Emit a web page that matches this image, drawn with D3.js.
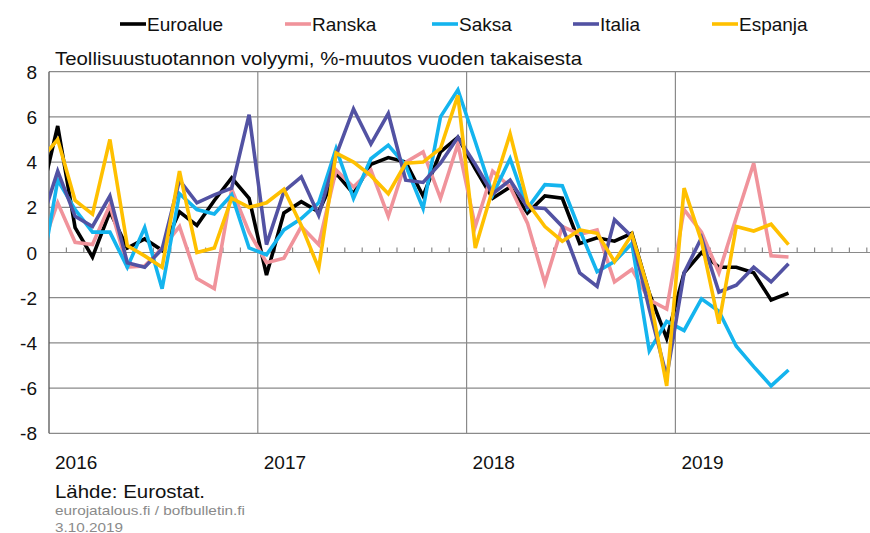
<!DOCTYPE html>
<html>
<head>
<meta charset="utf-8">
<script src="https://cdn.jsdelivr.net/npm/d3@7"></script>
<style>
  body { margin: 0; background: #fff; }
  svg { display: block; font-family: "Liberation Sans", Arial, sans-serif; }
</style>
</head>
<body>
<svg id="chart" width="870" height="533"></svg>
<script>
// monthly values, first one is Dec 2015 (clipped at left edge), last one Jul 2019
var startMonth = new Date(2015, 11, 1);

var euroalue = [2.3, 5.6, 1.1, -0.2, 1.8, 0.2, 0.6, 0.1, 1.8, 1.2, 2.3, 3.3, 2.4,
  -1.0, 1.75, 2.25, 1.8, 3.5, 2.6, 3.9, 4.2, 4.0, 2.5, 4.45, 5.1,
  3.7, 2.4, 2.9, 1.75, 2.5, 2.4, 0.4, 0.65, 0.5, 0.85, -1.8, -3.8,
  -0.9, 0.0, -0.65, -0.65, -0.9, -2.1, -1.8];
var ranska = [0.0, 2.2, 0.45, 0.35, 2.1, -0.65, -0.6, 0.2, 1.15, -1.15, -1.6, 2.8, 0.9,
  -0.45, -0.25, 1.15, 0.35, 3.65, 2.9, 3.65, 1.6, 4.0, 4.45, 2.4, 4.8,
  1.15, 3.6, 2.9, 1.3, -1.35, 1.15, 0.8, 1.0, -1.3, -0.75, -2.1, -2.5,
  1.9, 0.9, -0.9, 1.55, 3.95, -0.15, -0.2];
var saksa = [-1.2, 3.2, 1.9, 0.9, 0.9, -0.65, 1.1, -1.6, 2.6, 1.9, 1.7, 2.55, 0.2,
  -0.1, 1.0, 1.5, 2.2, 4.6, 2.4, 4.15, 4.75, 3.85, 1.95, 6.0, 7.2,
  4.9, 2.55, 4.15, 1.95, 3.0, 2.95, 1.0, -0.85, -0.4, 0.4, -4.35, -3.05,
  -3.45, -2.05, -2.6, -4.15, -5.05, -5.9, -5.2];
var italia = [1.2, 3.6, 1.6, 1.15, 2.5, -0.45, -0.65, 0.15, 3.2, 2.2, 2.55, 2.85, 6.1,
  0.35, 2.7, 3.35, 1.65, 4.3, 6.35, 4.8, 6.15, 3.2, 3.1, 3.95, 5.1,
  3.9, 2.6, 3.2, 2.0, 1.95, 1.15, -0.9, -1.5, 1.45, 0.7, -2.5, -5.5,
  -0.9, 0.65, -1.75, -1.45, -0.65, -1.3, -0.5];
var espanja = [4.1, 5.0, 2.3, 1.7, 5.0, 0.3, -0.15, -0.65, 3.6, 0.0, 0.2, 2.4, 2.0,
  2.2, 2.8, 1.2, -0.7, 4.4, 4.0, 3.4, 2.6, 3.95, 4.0, 4.6, 6.95,
  0.2, 2.8, 5.25, 2.2, 1.15, 0.5, 1.0, 0.85, -0.4, 0.8, -1.8, -5.9,
  2.85, 0.5, -3.15, 1.15, 0.95, 1.25, 0.35];

var seriesNames = ["Euroalue", "Ranska", "Saksa", "Italia", "Espanja"];
var seriesColors = ["#000000", "#F0939B", "#14B4EE", "#5252A3", "#FFC000"];
var yearLabels = ["2016", "2017", "2018", "2019"];
var yTicks = [8, 6, 4, 2, 0, -2, -4, -6, -8];

var allSeries = [euroalue, ranska, saksa, italia, espanja];

var svg = d3.select("#chart");

var plotLeft = 49, plotRight = 870, plotTop = 71.7, plotBottom = 433.3;
var monthW = 17.4;

// month index from Jan 2016 (0) ; points sit in the middle of the month
var x = d3.scaleLinear().domain([0, 48]).range([plotLeft, plotLeft + monthW * 48]);
var y = d3.scaleLinear().domain([-8, 8]).range([plotBottom, plotTop]);

function monthIndex(d) {
  return (d.getFullYear() - 2016) * 12 + d.getMonth();
}

var months = d3.range(euroalue.length).map(function(i) {
  return d3.timeMonth.offset(startMonth, i);
});

svg.append("clipPath").attr("id", "plotclip")
  .append("rect")
  .attr("x", plotLeft).attr("y", plotTop - 10)
  .attr("width", plotRight - plotLeft).attr("height", plotBottom - plotTop + 20);

// horizontal grid lines
svg.append("g")
  .selectAll("line")
  .data(yTicks)
  .enter()
  .append("line")
  .attr("x1", plotLeft).attr("x2", plotRight)
  .attr("y1", function(d) { return y(d); })
  .attr("y2", function(d) { return y(d); })
  .style("stroke", "#8a8a8a")
  .style("stroke-width", 1.2);

// year lines
svg.append("g")
  .selectAll("line")
  .data([1, 2, 3])
  .enter()
  .append("line")
  .attr("x1", function(d) { return x(d * 12); })
  .attr("x2", function(d) { return x(d * 12); })
  .attr("y1", plotTop).attr("y2", plotBottom)
  .style("stroke", "#8a8a8a")
  .style("stroke-width", 1.2);

// month ticks on the zero line
svg.append("g")
  .selectAll("line")
  .data(d3.range(1, 48))
  .enter()
  .append("line")
  .attr("x1", function(d) { return x(d); })
  .attr("x2", function(d) { return x(d); })
  .attr("y1", y(0) - 5).attr("y2", y(0))
  .style("stroke", "#8a8a8a")
  .style("stroke-width", 1.2);

// left axis
svg.append("line")
  .attr("x1", plotLeft).attr("x2", plotLeft)
  .attr("y1", plotTop).attr("y2", plotBottom)
  .style("stroke", "#555")
  .style("stroke-width", 1.3);

// y labels
svg.append("g")
  .selectAll("text")
  .data(yTicks)
  .enter()
  .append("text")
  .attr("x", 37)
  .attr("y", function(d) { return y(d) + 7; })
  .attr("text-anchor", "end")
  .style("font-size", "19px")
  .style("fill", "#111")
  .text(function(d) { return d; });

// year labels
svg.append("g")
  .selectAll("text")
  .data(yearLabels)
  .enter()
  .append("text")
  .attr("x", function(d, i) { return x(i * 12) + 6; })
  .attr("y", 469)
  .style("font-size", "19px")
  .style("fill", "#111")
  .text(function(d) { return d; });

// lines
var line = d3.line()
  .x(function(d) { return x(monthIndex(d.date) + 0.5); })
  .y(function(d) { return y(d.value); });

var lineGroup = svg.append("g").attr("clip-path", "url(#plotclip)");
allSeries.forEach(function(values, k) {
  var pts = values.map(function(v, i) { return {date: months[i], value: v}; });
  lineGroup.append("path")
    .datum(pts)
    .attr("d", line)
    .style("fill", "none")
    .style("stroke", seriesColors[k])
    .style("stroke-width", 3.6)
    .style("stroke-linejoin", "miter");
});

// legend
var legendX = [120, 285, 432, 573, 712];
var legend = svg.append("g")
  .selectAll("g")
  .data(seriesNames)
  .enter()
  .append("g")
  .attr("transform", function(d, i) { return "translate(" + legendX[i] + ",24)"; });
legend.append("line")
  .attr("x1", 0).attr("x2", 26)
  .attr("y1", 0).attr("y2", 0)
  .style("stroke", function(d, i) { return seriesColors[i]; })
  .style("stroke-width", 3.6);
legend.append("text")
  .attr("x", 27).attr("y", 7)
  .style("font-size", "19px")
  .style("fill", "#111")
  .text(function(d) { return d; });

// title and notes
svg.append("text")
  .attr("x", 55).attr("y", 65)
  .attr("textLength", 527).attr("lengthAdjust", "spacingAndGlyphs")
  .style("font-size", "19px")
  .style("fill", "#111")
  .text("Teollisuustuotannon volyymi, %-muutos vuoden takaisesta");

svg.append("text")
  .attr("x", 55).attr("y", 498)
  .attr("textLength", 150).attr("lengthAdjust", "spacingAndGlyphs")
  .style("font-size", "19px")
  .style("fill", "#111")
  .text("Lähde: Eurostat.");

svg.append("text")
  .attr("x", 55).attr("y", 515)
  .attr("textLength", 190).attr("lengthAdjust", "spacingAndGlyphs")
  .style("font-size", "13px")
  .style("fill", "#8a8a8a")
  .text("eurojatalous.fi / bofbulletin.fi");

svg.append("text")
  .attr("x", 55).attr("y", 532)
  .attr("textLength", 68).attr("lengthAdjust", "spacingAndGlyphs")
  .style("font-size", "13px")
  .style("fill", "#8a8a8a")
  .text("3.10.2019");
</script>
</body>
</html>
